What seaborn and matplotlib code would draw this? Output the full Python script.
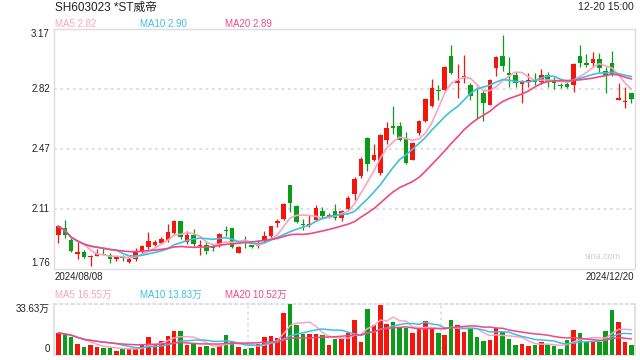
import matplotlib
matplotlib.use("Agg")
import matplotlib.pyplot as plt
import seaborn as sns
import numpy as np
import pandas as pd

# daily candles, 2024/08/08 .. 2024/12/20
opens = [1.956, 1.999, 1.930, 1.844, 1.858, 1.829, 1.836, 1.845, 1.838, 1.817,
         1.830, 1.801, 1.813, 1.856, 1.887, 1.901, 1.911, 1.930, 1.970, 2.042,
         1.915, 1.958, 1.891, 1.899, 1.895, 1.891, 1.989, 2.001, 1.852, 1.925,
         1.901, 1.895, 1.920, 1.954, 2.028, 2.052, 2.254, 2.130, 2.024, 2.015,
         2.044, 2.101, 2.062, 2.097, 2.058, 2.113, 2.199, 2.302, 2.531, 2.396,
         2.322, 2.514, 2.596, 2.596, 2.528, 2.400, 2.557, 2.631, 2.714, 2.812,
         2.812, 3.011, 2.855, 2.886, 2.841, 2.766, 2.796, 2.723, 2.943, 3.011,
         2.911, 2.900, 2.845, 2.860, 2.870, 2.860, 2.900, 2.870, 2.843, 2.845,
         2.841, 3.011, 2.970, 2.972, 2.992, 2.925, 2.968, 2.753, 2.743, 2.792]
highs = [2.014, 2.044, 1.950, 1.915, 1.866, 1.837, 1.872, 1.882, 1.852, 1.832,
         1.842, 1.832, 1.882, 1.901, 1.973, 1.926, 1.947, 2.024, 2.044, 2.042,
         1.983, 1.993, 1.925, 1.920, 1.907, 1.970, 2.013, 2.001, 1.891, 1.950,
         1.901, 1.930, 1.983, 2.013, 2.052, 2.146, 2.254, 2.136, 2.054, 2.077,
         2.132, 2.123, 2.089, 2.142, 2.107, 2.185, 2.296, 2.414, 2.537, 2.493,
         2.551, 2.620, 2.714, 2.625, 2.563, 2.502, 2.635, 2.763, 2.875, 2.841,
         2.953, 3.076, 2.964, 3.017, 2.851, 2.831, 2.812, 2.878, 3.011, 3.135,
         3.004, 2.919, 2.870, 2.913, 2.909, 2.933, 2.919, 2.886, 2.854, 2.860,
         2.972, 3.076, 3.023, 3.033, 3.031, 2.945, 3.043, 2.855, 2.831, 2.792]
lows = [1.911, 1.940, 1.856, 1.817, 1.823, 1.774, 1.834, 1.838, 1.794, 1.807,
        1.803, 1.794, 1.803, 1.848, 1.876, 1.891, 1.907, 1.915, 1.966, 1.936,
        1.907, 1.891, 1.842, 1.848, 1.862, 1.887, 1.954, 1.878, 1.852, 1.882,
        1.883, 1.882, 1.915, 1.940, 2.005, 2.048, 2.091, 2.028, 1.985, 2.003,
        2.038, 2.058, 2.056, 2.044, 2.038, 2.107, 2.165, 2.293, 2.332, 2.390,
        2.312, 2.494, 2.553, 2.508, 2.377, 2.400, 2.545, 2.625, 2.710, 2.753,
        2.802, 2.906, 2.763, 2.851, 2.753, 2.640, 2.631, 2.723, 2.894, 2.925,
        2.827, 2.827, 2.733, 2.827, 2.841, 2.847, 2.831, 2.816, 2.822, 2.822,
        2.802, 2.949, 2.945, 2.949, 2.919, 2.796, 2.894, 2.753, 2.704, 2.737]
closes = [2.009, 1.960, 1.862, 1.856, 1.829, 1.835, 1.845, 1.840, 1.813, 1.829,
          1.819, 1.817, 1.858, 1.891, 1.919, 1.914, 1.936, 1.976, 2.038, 1.944,
          1.960, 1.907, 1.901, 1.862, 1.879, 1.966, 1.979, 1.887, 1.887, 1.919,
          1.889, 1.901, 1.950, 2.009, 2.038, 2.140, 2.146, 2.032, 2.019, 2.023,
          2.117, 2.070, 2.077, 2.058, 2.101, 2.175, 2.289, 2.406, 2.375, 2.430,
          2.547, 2.587, 2.590, 2.514, 2.383, 2.499, 2.630, 2.757, 2.822, 2.806,
          2.949, 2.913, 2.866, 2.893, 2.776, 2.761, 2.737, 2.870, 3.007, 2.954,
          2.898, 2.851, 2.860, 2.870, 2.860, 2.900, 2.860, 2.851, 2.837, 2.831,
          2.964, 2.972, 2.960, 2.994, 2.939, 2.900, 2.906, 2.763, 2.749, 2.757]
# volume, 万股
volumes = [14.5, 13.0, 11.4, 6.9, 4.9, 6.3, 4.9, 4.4, 4.4, 2.4,
           4.0, 3.8, 4.0, 6.3, 11.8, 6.6, 9.2, 12.5, 15.7, 15.7,
           6.3, 7.6, 4.9, 5.6, 4.4, 5.6, 13.0, 8.1, 4.9, 3.6,
           4.4, 6.9, 11.8, 12.3, 11.2, 28.0, 33.63, 19.7, 13.7, 13.7,
           14.0, 13.0, 6.3, 10.3, 10.3, 14.5, 23.1, 8.5, 30.5, 19.7,
           33.2, 20.4, 21.7, 18.2, 18.0, 14.5, 17.5, 22.4, 18.0, 14.5,
           13.0, 23.1, 19.7, 15.2, 17.5, 11.8, 9.2, 9.6, 18.0, 15.2,
           10.5, 6.6, 7.2, 5.9, 6.6, 8.1, 6.6, 5.4, 3.9, 9.5,
           16.6, 14.2, 8.4, 8.4, 8.4, 15.9, 30.0, 21.5, 8.7, 6.5]

price_ticks = ['1.76', '2.11', '2.47', '2.82', '3.17']
price_low, price_high = 1.76, 3.17
vol_max = 33.63
title = "SH603023 *ST威帝"
stamp = "12-20 15:00"
first_day, last_day = "2024/08/08", "2024/12/20"
ma_price_text = ["MA5 2.82", "MA10 2.90", "MA20 2.89"]
ma_vol_text = ["MA5 16.55万", "MA10 13.83万", "MA20 10.52万"]

UP, DOWN = "#f3160d", "#0b9d19"
MA_COLORS = ["#fba3c3", "#3fc0e0", "#ee4a80"]
GRID = "#dcdcdc"
TXT = "#222222"

sns.set_theme(style="white")
plt.rcParams['font.family'] = ['Liberation Sans', 'Noto Sans CJK SC', 'DejaVu Sans']

df = pd.DataFrame({"open": opens, "high": highs, "low": lows,
                   "close": closes, "vol": volumes})
df["i"] = np.arange(len(df))
df["dir"] = np.where(df["close"] >= df["open"], "up", "down")
for n in (5, 10, 20):
    df[f"ma{n}"] = df["close"].rolling(n, min_periods=1).mean()
    df[f"vma{n}"] = df["vol"].rolling(n, min_periods=1).mean()

W, H = 640, 360
fig = plt.figure(figsize=(6.4, 3.6), dpi=100)
ax = fig.add_axes([54 / W, 1 - 268.5 / H, 580.5 / W, 239.5 / H])
axv = fig.add_axes([54 / W, 1 - 354.5 / H, 580.5 / W, 50.2 / H])
xlim = (-0.67, 89.47)

# candles
colors = df["dir"].map({"up": UP, "down": DOWN})
ax.vlines(df["i"], df["low"], df["high"], colors=colors, lw=0.9, zorder=2)
body = (df["close"] - df["open"]).abs().clip(lower=0.005)
ax.bar(df["i"], body, bottom=df[["open", "close"]].min(axis=1),
       width=0.7, color=colors, lw=0, zorder=3)
for n, c in zip((5, 10, 20), MA_COLORS):
    sns.lineplot(data=df, x="i", y=f"ma{n}", ax=ax, color=c, lw=1.2, zorder=4)

ax.set_xlim(*xlim)
ax.set_ylim(price_low, price_high)
yt = np.linspace(price_low, price_high, 5)
ax.set_yticks(yt)
ax.set_yticklabels(price_ticks)
for lbl, va in zip(ax.get_yticklabels(), ["bottom", "center", "center", "center", "top"]):
    lbl.set_va(va)
for v in yt[1:-1]:
    ax.axhline(v, color=GRID, lw=1.3, ls=(0, (1.5, 2)), zorder=1)
ax.set_xticks([])
ax.set_xlabel("")
ax.set_ylabel("")
ax.tick_params(axis="y", length=0, pad=3, labelsize=7, labelcolor=TXT)
for s in ax.spines.values():
    s.set_color(GRID)
    s.set_linewidth(1)
ax.text(0.945, 0.05, "sina.com", transform=ax.transAxes, ha="center",
        va="center", fontsize=6.5, color="#cfcfcf")

# volume
sns.barplot(data=df, x="i", y="vol", hue="dir", palette={"up": UP, "down": DOWN},
            native_scale=True, width=0.7, saturation=1, linewidth=0,
            legend=False, ax=axv, zorder=3)
for n, c in zip((5, 10, 20), MA_COLORS):
    sns.lineplot(data=df, x="i", y=f"vma{n}", ax=axv, color=c, lw=1.1, zorder=4)
axv.set_xlim(*xlim)
axv.set_ylim(0, vol_max)
axv.set_yticks([0, vol_max])
axv.set_yticklabels(["0", f"{vol_max:.2f}万"])
for lbl, va in zip(axv.get_yticklabels(), ["bottom", "top"]):
    lbl.set_va(va)
axv.set_xticks([])
axv.set_xlabel("")
axv.set_ylabel("")
axv.tick_params(axis="y", length=0, pad=3, labelsize=7, labelcolor=TXT)
for k in (1, 2):
    axv.axvline(xlim[0] + (xlim[1] - xlim[0]) * k / 3, color=GRID, lw=1.2,
                ls=(0, (1.5, 2)), zorder=1)
for name, s in axv.spines.items():
    s.set_color(GRID)
    s.set_linewidth(1.2)
    if name in ("top", "bottom"):
        s.set_linestyle((0, (1.5, 2)))

# header and labels
def ftext(x, y, s, **kw):
    fig.text(x / W, 1 - y / H, s, va="center", **kw)

ftext(55, 7.5, title, fontsize=8.5, color=TXT)
ftext(634, 7.5, stamp, fontsize=7.5, color=TXT, ha="right")
for x, s, c in zip((55, 140, 225), ma_price_text, MA_COLORS):
    ftext(x, 24, s, fontsize=7, color=c)
ftext(55, 277.5, first_day, fontsize=7, color=TXT)
ftext(634, 277.5, last_day, fontsize=7, color=TXT, ha="right")
for x, s, c in zip((55, 140, 225), ma_vol_text, MA_COLORS):
    ftext(x, 294.5, s, fontsize=7, color=c)

fig.savefig("out.png", dpi=100)
